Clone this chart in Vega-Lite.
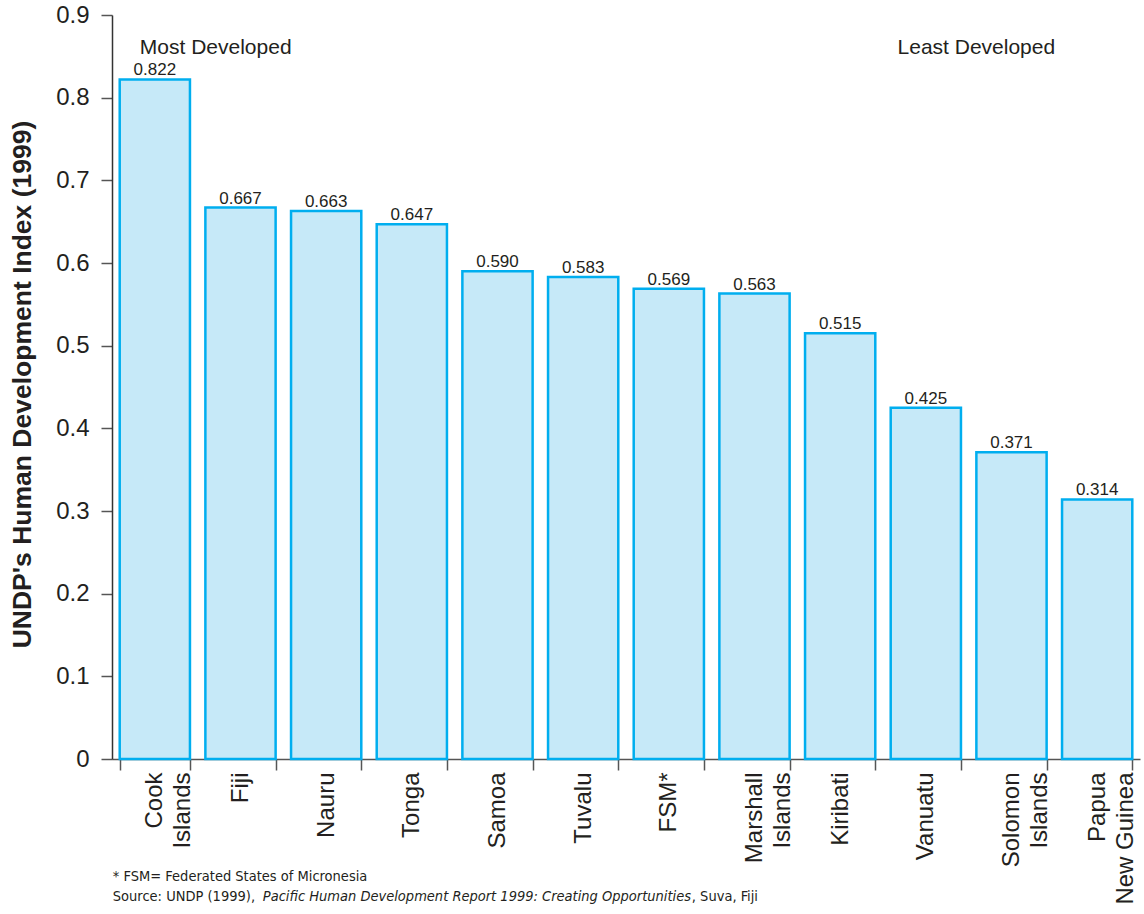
{
  "$schema": "https://vega.github.io/schema/vega-lite/v6.json",
  "width": 1028,
  "height": 744,
  "autosize": {"type": "none"},
  "padding": {"left": 112, "top": 15, "right": 4, "bottom": 155},
  "background": "white",
  "config": {"view": {"stroke": null}, "font": "Liberation Sans"},
  "datasets": {
    "hdi": [
      {"country": "Cook Islands", "hdi": 0.822},
      {"country": "Fiji", "hdi": 0.667},
      {"country": "Nauru", "hdi": 0.663},
      {"country": "Tonga", "hdi": 0.647},
      {"country": "Samoa", "hdi": 0.590},
      {"country": "Tuvalu", "hdi": 0.583},
      {"country": "FSM*", "hdi": 0.569},
      {"country": "Marshall Islands", "hdi": 0.563},
      {"country": "Kiribati", "hdi": 0.515},
      {"country": "Vanuatu", "hdi": 0.425},
      {"country": "Solomon Islands", "hdi": 0.371},
      {"country": "Papua New Guinea", "hdi": 0.314}
    ]
  },
  "data": {"name": "hdi"},
  "encoding": {
    "x": {
      "field": "country",
      "type": "nominal",
      "sort": null,
      "scale": {"paddingInner": 0.18, "paddingOuter": 0.09},
      "axis": {
        "title": null,
        "labelAngle": 270,
        "labelAlign": "right",
        "labelBaseline": "middle",
        "labelFontSize": 24,
        "labelColor": "#231f20",
        "labelPadding": 2,
        "labelLineHeight": 28,
        "labelExpr": "datum.value == null ? '' : datum.value == 'Papua New Guinea' ? ['Papua', 'New Guinea'] : split(datum.value, ' ')",
        "tickBand": "extent",
        "tickSize": 11,
        "tickColor": "#555555",
        "tickWidth": 1.5,
        "domainColor": "#555555",
        "domainWidth": 1.5,
        "grid": false
      }
    },
    "y": {
      "field": "hdi",
      "type": "quantitative",
      "scale": {"domain": [0, 0.9], "nice": false},
      "axis": {
        "title": "UNDP's Human Development Index (1999)",
        "titleFontSize": 26.5,
        "titleFontWeight": "bold",
        "titleColor": "#231f20",
        "titleAngle": 270,
        "titleX": -90,
        "titleY": 369,
        "titleAlign": "center",
        "titleBaseline": "middle",
        "values": [0, 0.1, 0.2, 0.3, 0.4, 0.5, 0.6, 0.7, 0.8, 0.9],
        "format": ".1~f",
        "labelFontSize": 24,
        "labelColor": "#231f20",
        "labelPadding": 12,
        "tickSize": 11,
        "tickColor": "#555555",
        "tickWidth": 1.5,
        "domainColor": "#333333",
        "domainWidth": 1.5,
        "grid": false
      }
    }
  },
  "layer": [
    {
      "mark": {"type": "bar", "fill": "#c6e9f8", "stroke": "#00aeef", "strokeWidth": 2.5}
    },
    {
      "mark": {"type": "text", "baseline": "alphabetic", "dy": -4, "fontSize": 17, "color": "#231f20"},
      "encoding": {"text": {"field": "hdi", "type": "quantitative", "format": ".3f"}}
    },
    {
      "data": {"values": [{"country": "Cook Islands", "y": 0.853, "note": "Most  Developed"}]},
      "mark": {"type": "text", "align": "left", "baseline": "alphabetic", "dx": -15, "fontSize": 21, "color": "#231f20"},
      "encoding": {"x": {"field": "country", "type": "nominal"}, "y": {"field": "y", "type": "quantitative"}, "text": {"field": "note"}}
    },
    {
      "data": {"values": [{"country": "Papua New Guinea", "y": 0.853, "note": "Least  Developed"}]},
      "mark": {"type": "text", "align": "right", "baseline": "alphabetic", "dx": -42, "fontSize": 21, "color": "#231f20"},
      "encoding": {"x": {"field": "country", "type": "nominal"}, "y": {"field": "y", "type": "quantitative"}, "text": {"field": "note"}}
    },
    {
      "data": {"values": [{"country": "Cook Islands", "y": -0.1427, "note": "* FSM= Federated States of Micronesia"}]},
      "mark": {"type": "text", "align": "left", "baseline": "middle", "dx": -42, "fontSize": 14.5, "font": "DejaVu Sans Condensed", "color": "#231f20"},
      "encoding": {"x": {"field": "country", "type": "nominal"}, "y": {"field": "y", "type": "quantitative"}, "text": {"field": "note"}}
    },
    {
      "data": {"values": [{"country": "Cook Islands", "y": -0.1669, "note": "Source: UNDP (1999), "}]},
      "mark": {"type": "text", "align": "left", "baseline": "middle", "dx": -42, "fontSize": 14.5, "font": "DejaVu Sans Condensed", "color": "#231f20"},
      "encoding": {"x": {"field": "country", "type": "nominal"}, "y": {"field": "y", "type": "quantitative"}, "text": {"field": "note"}}
    },
    {
      "data": {"values": [{"country": "Cook Islands", "y": -0.1669, "note": "Pacific Human Development Report 1999: Creating Opportunities"}]},
      "mark": {"type": "text", "align": "left", "baseline": "middle", "dx": 108, "fontSize": 14.5, "fontStyle": "italic", "font": "DejaVu Sans Condensed", "color": "#231f20"},
      "encoding": {"x": {"field": "country", "type": "nominal"}, "y": {"field": "y", "type": "quantitative"}, "text": {"field": "note"}}
    },
    {
      "data": {"values": [{"country": "Cook Islands", "y": -0.1669, "note": ", Suva, Fiji"}]},
      "mark": {"type": "text", "align": "left", "baseline": "middle", "dx": 537, "fontSize": 14.5, "font": "DejaVu Sans Condensed", "color": "#231f20"},
      "encoding": {"x": {"field": "country", "type": "nominal"}, "y": {"field": "y", "type": "quantitative"}, "text": {"field": "note"}}
    }
  ]
}
